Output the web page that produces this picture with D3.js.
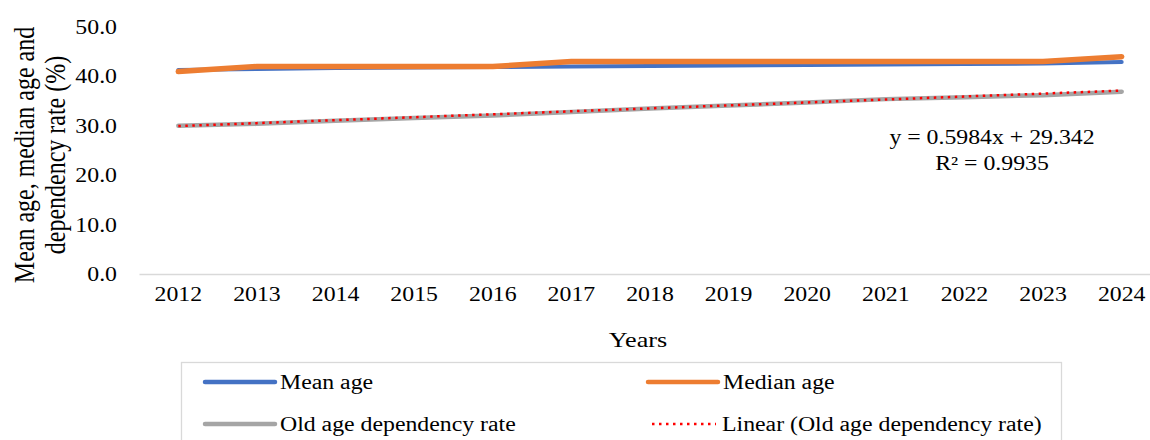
<!DOCTYPE html>
<html lang="en">
<head>
  <meta charset="UTF-8">
  <title>Mean age, median age and dependency rate</title>
  <style>
    body { margin: 0; background: #fff; }
    svg { display: block; font-family: "Liberation Serif", "Times New Roman", serif; }
  </style>
  <script src="https://cdn.jsdelivr.net/npm/d3@7"></script>
</head>
<body>
<div id="chart"></div>
<script>
var years = ["2012", "2013", "2014", "2015", "2016", "2017", "2018", "2019", "2020", "2021", "2022", "2023", "2024"];
var meanAge = [41.3, 41.5, 41.7, 41.8, 41.9, 42.0, 42.1, 42.2, 42.3, 42.4, 42.5, 42.6, 42.9];
var medianAge = [41.0, 42.0, 42.0, 42.0, 42.0, 43.0, 43.0, 43.0, 43.0, 43.0, 43.0, 43.0, 44.0];
var oldAgeDep = [30.0, 30.4, 31.0, 31.6, 32.1, 32.8, 33.5, 34.1, 34.7, 35.4, 35.8, 36.2, 36.9];
var trendSlope = 0.5984, trendIntercept = 29.342, trendR2 = 0.9935;
var yTicks = [0, 10, 20, 30, 40, 50];

var width = 1150, height = 440;
var stretch = 1.19; // the original text is a bit wide

var svg = d3.select("#chart").append("svg")
    .attr("width", width)
    .attr("height", height);

var x = d3.scaleBand().domain(years).range([139, 1161]);
var y = d3.scaleLinear().domain([0, 50]).range([274, 27]);
var cx = function(d, i) { return x(years[i]) + x.bandwidth() / 2; };

// text placed at (tx,ty), stretched horizontally
function label(tx, ty, str, size, anchor) {
  return svg.append("text")
    .attr("transform", "translate(" + tx + "," + ty + ") scale(" + stretch + ",1)")
    .attr("text-anchor", anchor || "start")
    .style("font-size", size + "px")
    .text(str);
}

// y axis labels (no axis line)
yTicks.forEach(function(d) {
  label(117, y(d) + 7, d.toFixed(1), 20, "end");
});

// x axis
var xAxis = svg.append("g")
    .attr("transform", "translate(0,274)")
    .call(d3.axisBottom(x).tickSize(0).tickPadding(13));
xAxis.select(".domain").attr("stroke", "#d9d9d9").attr("stroke-width", 1.3);
xAxis.selectAll("text")
    .attr("transform", "scale(" + stretch + ",1)")
    .style("font-family", "'Liberation Serif', 'Times New Roman', serif")
    .style("font-size", "20px")
    .attr("fill", "#000");

label(638, 347, "Years", 22, "middle");

var yTitle = svg.append("text")
    .attr("transform", "translate(0,155) scale(" + stretch + ",1) rotate(-90)")
    .attr("text-anchor", "middle")
    .style("font-size", "24px");
yTitle.append("tspan").attr("x", 0).attr("y", 29).text("Mean age, median age and");
yTitle.append("tspan").attr("x", 0).attr("y", 55).text("dependency rate (%)");

var line = d3.line()
    .x(function(d, i) { return cx(d, i); })
    .y(function(d) { return y(d); });

function drawSeries(data, color, w) {
  svg.append("path")
    .datum(data)
    .attr("fill", "none")
    .attr("stroke", color)
    .attr("stroke-width", w)
    .attr("stroke-linecap", "round")
    .attr("stroke-linejoin", "round")
    .attr("d", line);
}

drawSeries(oldAgeDep, "#a5a5a5", 4.5);

// linear trend of dependency rate
var trend = years.map(function(d, i) { return trendIntercept + trendSlope * (i + 1); });
svg.append("path")
    .datum(trend)
    .attr("fill", "none")
    .attr("stroke", "#ff0000")
    .attr("stroke-width", 2.5)
    .attr("stroke-dasharray", "2.5,4.5")
    .attr("d", line);

drawSeries(meanAge, "#4472c4", 4);
drawSeries(medianAge, "#ed7d31", 5.5);

label(992, 144, "y = " + trendSlope + "x + " + trendIntercept, 20, "middle");
label(992, 170, "R² = " + trendR2, 20, "middle");

// legend
svg.append("rect")
    .attr("x", 181.5).attr("y", 362.5)
    .attr("width", 880).attr("height", 100)
    .attr("fill", "none")
    .attr("stroke", "#d9d9d9")
    .attr("stroke-width", 1.3);

var legendItems = [
  { name: "Mean age", color: "#4472c4", x: 205, y: 382, dash: null },
  { name: "Median age", color: "#ed7d31", x: 648, y: 382, dash: null },
  { name: "Old age dependency rate", color: "#a5a5a5", x: 205, y: 424, dash: null },
  { name: "Linear (Old age dependency rate)", color: "#ff0000", x: 652, y: 424, dash: "2.5,4.5" }
];

var lg = svg.append("g").selectAll("g")
    .data(legendItems)
  .enter().append("g");

lg.append("line")
    .attr("x1", function(d) { return d.x; })
    .attr("x2", function(d) { return d.dash ? d.x + 64 : d.x + 70; })
    .attr("y1", function(d) { return d.y; })
    .attr("y2", function(d) { return d.y; })
    .attr("stroke", function(d) { return d.color; })
    .attr("stroke-width", function(d) { return d.dash ? 2.5 : 4.5; })
    .attr("stroke-linecap", function(d) { return d.dash ? "butt" : "round"; })
    .attr("stroke-dasharray", function(d) { return d.dash; });

legendItems.forEach(function(d) {
  label(d.dash ? d.x + 70 : d.x + 75, d.y + 7, d.name, 20, "start");
});
</script>
</body>
</html>
